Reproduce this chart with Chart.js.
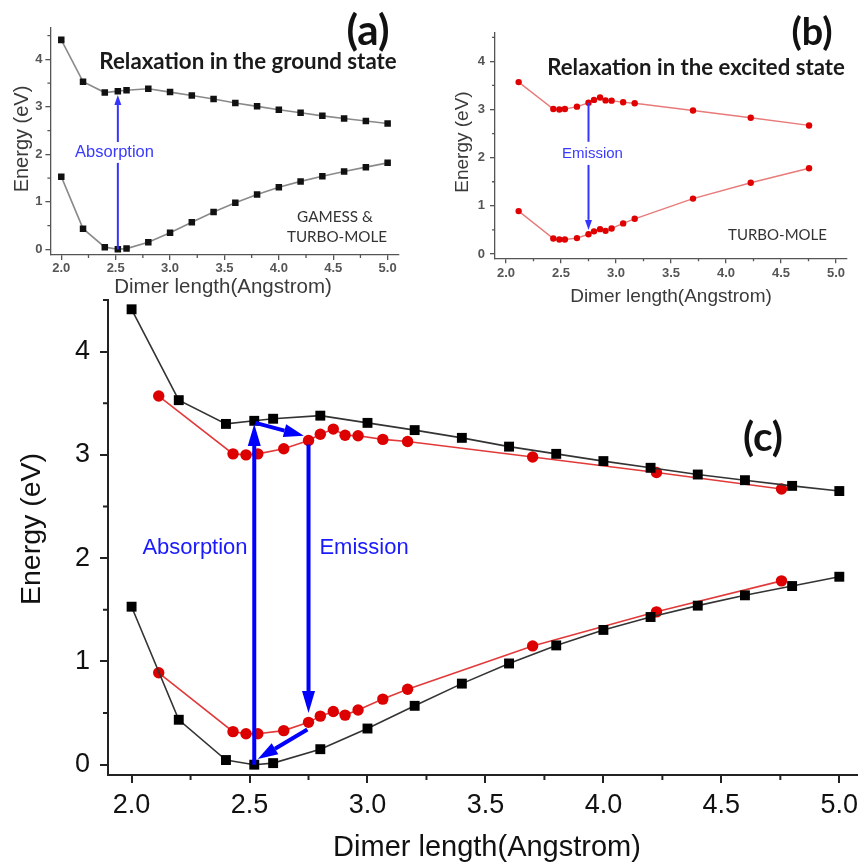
<!DOCTYPE html>
<html>
<head>
<meta charset="utf-8">
<script src="https://cdn.jsdelivr.net/npm/chart.js@4.4.1/dist/chart.umd.min.js"></script>
<style>
  body { margin: 0; background: #fff; overflow: hidden; }
  canvas { position: absolute; left: 0; top: 0; }
</style>
</head>
<body>
<canvas id="chartA" width="864" height="867"></canvas>
<canvas id="chartB" width="864" height="867"></canvas>
<canvas id="chartC" width="864" height="867"></canvas>
<script>
// ground state curves (GAMESS & TURBO-MOLE)
const groundX = [2.0, 2.2, 2.4, 2.52, 2.6, 2.8, 3.0, 3.2, 3.4, 3.6, 3.8, 4.0, 4.2, 4.4, 4.6, 4.8, 5.0];
const groundUpper = [4.41, 3.53, 3.30, 3.33, 3.35, 3.38, 3.31, 3.24, 3.165, 3.08, 3.01, 2.94, 2.875, 2.81, 2.755, 2.70, 2.65];
const groundLower = [1.53, 0.435, 0.045, 0.0, 0.015, 0.15, 0.35, 0.57, 0.785, 0.98, 1.155, 1.305, 1.43, 1.54, 1.64, 1.73, 1.82];

// excited state curves (TURBO-MOLE)
const excitedX = [2.115, 2.43, 2.485, 2.535, 2.645, 2.75, 2.80, 2.855, 2.905, 2.96, 3.065, 3.17, 3.70, 4.225, 4.755];
const excitedUpper = [3.57, 3.01, 3.00, 3.01, 3.06, 3.14, 3.20, 3.25, 3.19, 3.185, 3.15, 3.13, 2.98, 2.83, 2.67];
const excitedLower = [0.89, 0.32, 0.30, 0.30, 0.33, 0.41, 0.47, 0.515, 0.48, 0.53, 0.635, 0.73, 1.15, 1.48, 1.78];

// axis ticks
const xTicks = [2.0, 2.5, 3.0, 3.5, 4.0, 4.5, 5.0];
const xMinorTicks = [2.25, 2.75, 3.25, 3.75, 4.25, 4.75];
const yTicks = [0, 1, 2, 3, 4];
const yMinorTicks = [0.5, 1.5, 2.5, 3.5, 4.5];

const xTitle = "Dimer length(Angstrom)";
const yTitle = "Energy (eV)";

const W = 864, H = 867;

// fit a font so that text has the given width
function fitFont(ctx, text, weight, family, width) {
  ctx.font = weight + " 100px " + family;
  const w = ctx.measureText(text).width;
  return weight + " " + (100 * width / w).toFixed(1) + "px " + family;
}

function drawArrow(ctx, x1, y1, x2, y2, o) {
  const ang = Math.atan2(y2 - y1, x2 - x1);
  const hl = o.head || 0;
  const bx = x2 - hl * Math.cos(ang);
  const by = y2 - hl * Math.sin(ang);
  ctx.strokeStyle = o.color;
  ctx.fillStyle = o.color;
  ctx.lineWidth = o.width;
  ctx.beginPath();
  ctx.moveTo(x1, y1);
  ctx.lineTo(bx, by);
  ctx.stroke();
  if (hl) {
    const hw = o.headW / 2;
    ctx.beginPath();
    ctx.moveTo(x2, y2);
    ctx.lineTo(bx + hw * Math.sin(ang), by - hw * Math.cos(ang));
    ctx.lineTo(bx - hw * Math.sin(ang), by + hw * Math.cos(ang));
    ctx.closePath();
    ctx.fill();
  }
}

const extras = {
  id: "extras",
  afterDraw(chart) {
    const p = chart.options.plugins.extras;
    const ctx = chart.ctx;
    const xs = chart.scales.x, ys = chart.scales.y;
    const area = chart.chartArea;
    ctx.save();

    // minor ticks
    ctx.strokeStyle = p.axisColor;
    ctx.lineWidth = p.axisWidth;
    ctx.beginPath();
    xMinorTicks.forEach((v) => {
      const px = xs.getPixelForValue(v);
      ctx.moveTo(px, area.bottom);
      ctx.lineTo(px, area.bottom + p.minorLen);
    });
    yMinorTicks.forEach((v) => {
      if (v > ys.max) return;
      const py = ys.getPixelForValue(v);
      ctx.moveTo(area.left, py);
      ctx.lineTo(area.left - p.minorLen, py);
    });
    ctx.stroke();

    // axis titles
    ctx.textAlign = "center";
    ctx.textBaseline = "middle";
    ctx.fillStyle = p.titleColor;
    ctx.font = p.xTitle.size + "px 'Liberation Sans', Arial";
    ctx.fillText(xTitle, p.xTitle.x, p.xTitle.y);
    ctx.save();
    ctx.translate(p.yTitle.x, p.yTitle.y);
    ctx.rotate(-Math.PI / 2);
    ctx.font = p.yTitle.size + "px 'Liberation Sans', Arial";
    ctx.fillText(yTitle, 0, 0);
    ctx.restore();

    // arrows (data units)
    p.arrows.forEach((a) => {
      drawArrow(ctx,
        xs.getPixelForValue(a.from[0]), ys.getPixelForValue(a.from[1]),
        xs.getPixelForValue(a.to[0]), ys.getPixelForValue(a.to[1]), a);
    });

    // labels
    p.texts.forEach((t) => {
      ctx.fillStyle = t.color;
      ctx.font = t.fit ? fitFont(ctx, t.text, t.weight, t.family, t.fit) : t.font;
      ctx.fillText(t.text, t.x, t.y);
    });
    ctx.restore();
  },
};

function makePanel(id, p) {
  const tickFont = { family: "'Liberation Sans', Arial", size: p.tickSize, weight: p.tickWeight };
  const datasets = p.series.map((s) => ({
    data: s.x.map((x, i) => ({ x: x, y: s.y[i] })),
    borderColor: s.line,
    borderWidth: s.lineWidth,
    pointStyle: s.marker,
    pointRadius: s.radius,
    pointBackgroundColor: s.fill,
    pointBorderColor: s.fill,
    pointBorderWidth: 0,
    tension: 0,
    fill: false,
  }));

  return new Chart(document.getElementById(id), {
    type: "line",
    data: { datasets: datasets },
    options: {
      responsive: false,
      animation: false,
      events: [],
      layout: {
        padding: {
          left: p.box.l - p.yWidth,
          top: p.box.t,
          right: W - p.box.r,
          bottom: H - p.box.b - p.xHeight,
        },
      },
      plugins: {
        legend: { display: false },
        tooltip: { enabled: false },
        extras: p,
      },
      scales: {
        x: {
          type: "linear",
          min: p.xRange[0],
          max: p.xRange[1],
          afterBuildTicks: (s) => { s.ticks = xTicks.map((v) => ({ value: v })); },
          afterFit: (s) => { s.height = p.xHeight; s.paddingLeft = 0; s.paddingRight = 0; },
          ticks: {
            autoSkip: false, maxRotation: 0, padding: p.xTickPad,
            color: p.tickColor, font: tickFont,
            callback: (v) => v.toFixed(1),
          },
          grid: { drawOnChartArea: false, drawTicks: true, tickLength: p.majorLen, color: p.axisColor, lineWidth: p.axisWidth },
          border: { display: true, color: p.axisColor, width: p.axisWidth },
        },
        y: {
          type: "linear",
          min: p.yRange[0],
          max: p.yRange[1],
          afterBuildTicks: (s) => { s.ticks = yTicks.map((v) => ({ value: v })); },
          afterFit: (s) => { s.width = p.yWidth; s.paddingTop = 0; s.paddingBottom = 0; },
          ticks: {
            autoSkip: false, padding: p.yTickPad,
            color: p.tickColor, font: tickFont,
            callback: (v) => String(v),
          },
          grid: { drawOnChartArea: false, drawTicks: true, tickLength: p.majorLen, color: p.axisColor, lineWidth: p.axisWidth },
          border: { display: true, color: p.axisColor, width: p.axisWidth },
        },
      },
    },
    plugins: [extras],
  });
}

const calibri = "Lato, 'Open Sans', sans-serif";
const arial = "'Liberation Sans', Arial";

// (a) relaxation in the ground state
makePanel("chartA", {
  box: { l: 50.4, t: 28, r: 398.5, b: 255 },
  xRange: [1.9, 5.1], yRange: [-0.12, 4.66],
  yWidth: 40, xHeight: 30,
  tickSize: 13, tickWeight: "bold", tickColor: "#555",
  xTickPad: 1, yTickPad: 3,
  axisColor: "#555", axisWidth: 1.3, majorLen: 5, minorLen: 3,
  titleColor: "#3a3a3a",
  xTitle: { x: 223, y: 287, size: 20.5 },
  yTitle: { x: 22, y: 139, size: 20 },
  series: [
    { x: groundX, y: groundUpper, line: "#8a8a8a", lineWidth: 1.6, marker: "rect", radius: 4.6, fill: "#111" },
    { x: groundX, y: groundLower, line: "#8a8a8a", lineWidth: 1.6, marker: "rect", radius: 4.6, fill: "#111" },
  ],
  arrows: [
    { from: [2.52, 0.0], to: [2.52, 1.82], color: "#3535ff", width: 2 },
    { from: [2.52, 2.26], to: [2.52, 3.25], color: "#3535ff", width: 2, head: 10, headW: 7 },
  ],
  texts: [
    { text: "(a)", x: 368, y: 31, weight: "bold", family: calibri, fit: 43, color: "#111" },
    { text: "Relaxation in the ground state", x: 248, y: 62, weight: "bold", family: calibri, fit: 298, color: "#1a1a1a" },
    { text: "Absorption", x: 114.5, y: 152, font: "16.5px " + arial, color: "#3a3aff" },
    { text: "GAMESS &", x: 335, y: 217, weight: "normal", family: calibri, fit: 76, color: "#333" },
    { text: "TURBO-MOLE", x: 337, y: 237, weight: "normal", family: calibri, fit: 100, color: "#333" },
  ],
});

// (b) relaxation in the excited state
makePanel("chartB", {
  box: { l: 495, t: 33, r: 847, b: 258.3 },
  xRange: [1.9, 5.1], yRange: [-0.09, 4.59],
  yWidth: 40, xHeight: 30,
  tickSize: 13, tickWeight: "bold", tickColor: "#555",
  xTickPad: 2.5, yTickPad: 5,
  axisColor: "#555", axisWidth: 1.3, majorLen: 5, minorLen: 3,
  titleColor: "#3a3a3a",
  xTitle: { x: 671, y: 297, size: 19 },
  yTitle: { x: 463, y: 142, size: 19 },
  series: [
    { x: excitedX, y: excitedUpper, line: "#e87a7a", lineWidth: 1.4, marker: "circle", radius: 3.2, fill: "#e00000" },
    { x: excitedX, y: excitedLower, line: "#e87a7a", lineWidth: 1.4, marker: "circle", radius: 3.2, fill: "#e00000" },
  ],
  arrows: [
    { from: [2.75, 3.14], to: [2.75, 2.33], color: "#3535ff", width: 2 },
    { from: [2.75, 1.85], to: [2.75, 0.5], color: "#3535ff", width: 2, head: 10, headW: 7 },
  ],
  texts: [
    { text: "(b)", x: 812, y: 33, weight: "bold", family: calibri, fit: 41, color: "#111" },
    { text: "Relaxation in the excited state", x: 696, y: 68, weight: "bold", family: calibri, fit: 298, color: "#1a1a1a" },
    { text: "Emission", x: 592.5, y: 154, font: "15px " + arial, color: "#3a3aff" },
    { text: "TURBO-MOLE", x: 777.5, y: 235, weight: "normal", family: calibri, fit: 99, color: "#333" },
  ],
});

// (c) both curves together
makePanel("chartC", {
  box: { l: 108, t: 300, r: 863, b: 775 },
  xRange: [1.9, 5.075], yRange: [-0.1, 4.5],
  yWidth: 60, xHeight: 60,
  tickSize: 27, tickWeight: "normal", tickColor: "#111",
  xTickPad: 6, yTickPad: 10,
  axisColor: "#222", axisWidth: 2, majorLen: 8, minorLen: 5,
  titleColor: "#111",
  xTitle: { x: 487, y: 848, size: 29 },
  yTitle: { x: 32, y: 529, size: 28.5 },
  series: [
    { x: groundX, y: groundUpper, line: "#333", lineWidth: 1.6, marker: "rect", radius: 7, fill: "#000" },
    { x: groundX, y: groundLower, line: "#333", lineWidth: 1.6, marker: "rect", radius: 7, fill: "#000" },
    { x: excitedX, y: excitedUpper, line: "#e23a3a", lineWidth: 1.6, marker: "circle", radius: 5.7, fill: "#dd0000" },
    { x: excitedX, y: excitedLower, line: "#e23a3a", lineWidth: 1.6, marker: "circle", radius: 5.7, fill: "#dd0000" },
  ],
  arrows: [
    { from: [2.52, 0.0], to: [2.52, 3.30], color: "#0000ff", width: 4, head: 22, headW: 13 },
    { from: [2.525, 3.31], to: [2.73, 3.185], color: "#0000ff", width: 4, head: 20, headW: 13 },
    { from: [2.75, 3.10], to: [2.75, 0.50], color: "#0000ff", width: 4, head: 22, headW: 13 },
    { from: [2.745, 0.34], to: [2.535, 0.055], color: "#0000ff", width: 4, head: 20, headW: 13 },
  ],
  texts: [
    { text: "(c)", x: 763, y: 438, weight: "bold", family: calibri, fit: 40, color: "#111" },
    { text: "Absorption", x: 195, y: 548, font: "22px " + arial, color: "#1a1aff" },
    { text: "Emission", x: 364, y: 548, font: "22px " + arial, color: "#1a1aff" },
  ],
});
</script>
</body>
</html>
